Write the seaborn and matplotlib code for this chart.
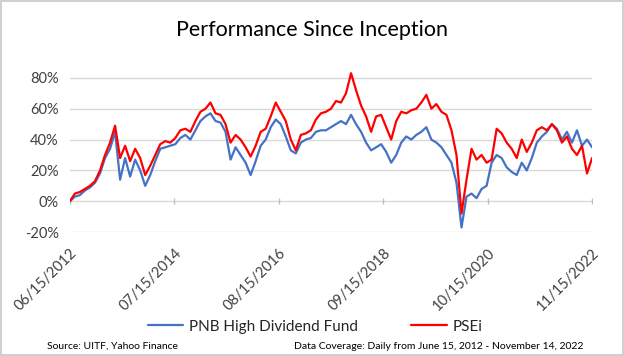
import numpy as np
import pandas as pd
import matplotlib.pyplot as plt
import matplotlib.dates as mdates
from matplotlib.ticker import FuncFormatter
import seaborn as sns

start_date = "2012-06-15"
end_date = "2022-11-14"

pnb_fund = [0, 3, 4, 7, 9, 12, 18, 28, 34, 45, 14, 28, 16, 27, 20, 10, 17, 26, 34, 35,
            36, 37, 41, 43, 40, 46, 52, 55, 57, 52, 51, 45, 27, 35, 30, 25, 17, 26, 36, 40,
            48, 53, 50, 42, 33, 31, 38, 40, 41, 45, 46, 46, 48, 50, 52, 50, 56, 50, 45, 38,
            33, 35, 37, 32, 25, 30, 38, 42, 40, 43, 45, 48, 40, 38, 35, 30, 25, 12, -17, 3,
            5, 2, 8, 10, 25, 30, 28, 22, 19, 17, 25, 20, 28, 38, 42, 45, 50, 47, 40, 45,
            38, 46, 36, 40, 35]

psei = [0, 5, 6, 8, 10, 13, 20, 30, 38, 49, 28, 36, 26, 34, 28, 17, 23, 30, 37, 39,
        38, 41, 46, 47, 45, 52, 58, 60, 64, 57, 56, 50, 38, 43, 40, 35, 29, 36, 45, 47,
        55, 64, 58, 52, 40, 33, 43, 44, 46, 53, 57, 58, 60, 65, 64, 70, 83, 72, 62, 55,
        45, 55, 56, 48, 40, 52, 58, 57, 59, 60, 64, 69, 60, 63, 58, 56, 46, 30, -8, 14,
        34, 27, 30, 25, 27, 47, 44, 38, 34, 28, 40, 32, 38, 46, 48, 46, 50, 46, 38, 42,
        34, 30, 36, 18, 28]

series_names = ["PNB High Dividend Fund", "PSEi"]
series_colors = ["#4472C4", "#FF0000"]
tick_dates = ["2012-06-15", "2014-07-15", "2016-08-15", "2018-09-15", "2020-10-15", "2022-11-15"]
y_ticks = [-20, 0, 20, 40, 60, 80]

dates = pd.date_range(start_date, end_date, periods=len(psei))
df = pd.concat([
    pd.DataFrame({"Date": dates, "Return": pnb_fund, "Series": series_names[0]}),
    pd.DataFrame({"Date": dates, "Return": psei, "Series": series_names[1]}),
])

sns.set_theme(style="white")
plt.rcParams["font.family"] = ["Lato", "DejaVu Sans"]

fig = plt.figure(figsize=(6.24, 3.56), dpi=100, edgecolor="#d0d0d0", linewidth=1.5)
ax = fig.add_axes([0.112, 0.348, 0.837, 0.455])

sns.lineplot(data=df, x="Date", y="Return", hue="Series", palette=series_colors,
             linewidth=1.6, ax=ax, legend=False)

# axis styling in the Excel look
for side in ["top", "right", "left", "bottom"]:
    ax.spines[side].set_visible(False)
ax.set_ylim(-20, 85)
ax.set_yticks(y_ticks)
ax.yaxis.set_major_formatter(FuncFormatter(lambda v, p: f"{v:.0f}%"))
ax.grid(axis="y", color="#d9d9d9", linewidth=1)
ax.set_axisbelow(True)

ticks = pd.to_datetime(tick_dates)
ax.set_xlim(ticks[0], ticks[-1])
ax.set_xticks(ticks)
ax.xaxis.set_major_formatter(mdates.DateFormatter("%m/%d/%Y"))
plt.setp(ax.get_xticklabels(), rotation=45, ha="right", rotation_mode="anchor")
ax.tick_params(axis="both", length=0, labelsize=10.5, colors="#404040")
ax.tick_params(axis="x", pad=10)
ax.tick_params(axis="y", pad=8)
ax.scatter(ticks, [0] * len(ticks), marker="|", s=20, color="#bfbfbf", linewidths=1, zorder=1)
ax.set_xlabel("")
ax.set_ylabel("")

fig.text(0.5, 0.915, "Performance Since Inception", ha="center", va="center",
         fontsize=15.5, color="#000000")

handles = [plt.Line2D([], [], color=c, linewidth=1.6) for c in series_colors]
fig.legend(handles, series_names, loc="center", bbox_to_anchor=(0.505, 0.082), ncol=2,
           frameon=False, fontsize=11, handlelength=2.3, columnspacing=3.5, handletextpad=0.4)

fig.text(0.075, 0.028, "Source: UITF, Yahoo Finance", fontsize=7.5, color="#000000", va="center")
fig.text(0.935, 0.028, "Data Coverage: Daily from June 15, 2012 - November 14, 2022",
         fontsize=7.5, color="#000000", ha="right", va="center")

fig.savefig("out.png", dpi=100)
